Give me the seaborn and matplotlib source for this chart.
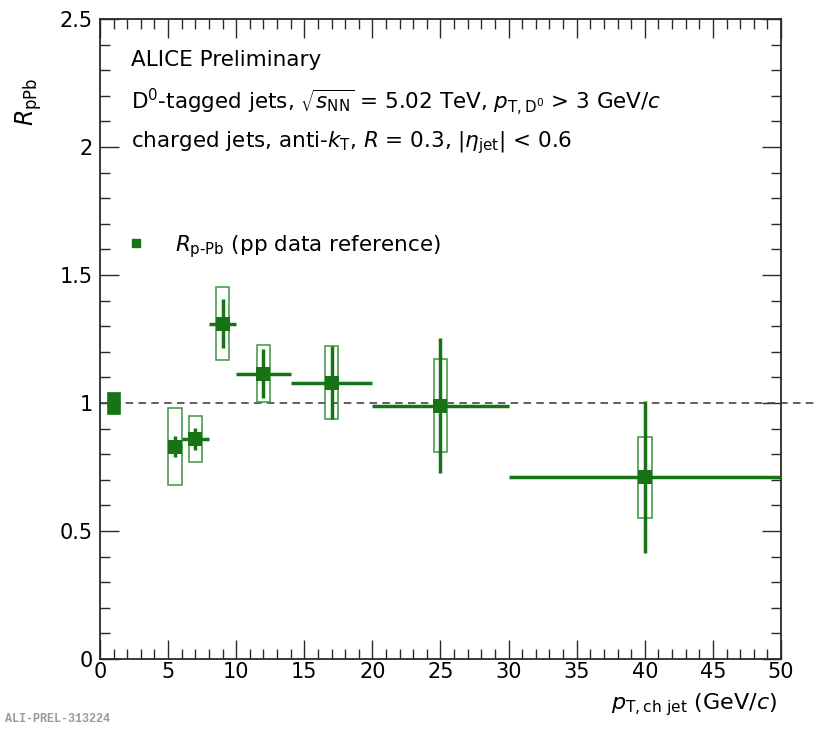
import numpy as np
import pandas as pd
import matplotlib
matplotlib.use("Agg")
import matplotlib.pyplot as plt
from matplotlib.patches import Rectangle
from matplotlib.lines import Line2D
from matplotlib.ticker import MultipleLocator
import seaborn as sns

# ---------------- data ----------------
pt_center = [5.5, 7.0, 9.0, 12.0, 17.0, 25.0, 40.0]
pt_low = [5.0, 6.0, 8.0, 10.0, 14.0, 20.0, 30.0]
pt_high = [6.0, 8.0, 10.0, 14.0, 20.0, 30.0, 50.0]
rppb = [0.83, 0.86, 1.31, 1.115, 1.08, 0.99, 0.71]
stat_err = [0.04, 0.042, 0.095, 0.095, 0.143, 0.265, 0.297]
sys_err = [0.152, 0.089, 0.142, 0.11, 0.142, 0.18, 0.158]
ref_x = [1.0]
ref_val = [1.0]
ref_unc = [0.042]

x_ticks_major = 5
y_ticks_major = 0.5

# ---------------- style ----------------
sns.set_style("ticks")
plt.rcParams["font.family"] = ["DejaVu Sans"]
plt.rcParams["mathtext.fontset"] = "dejavusans"
for k in ["text.color", "axes.labelcolor", "xtick.labelcolor", "ytick.labelcolor"]:
    plt.rcParams[k] = "black"

green = "#167416"
box_green = "#3d943d"
frame_col = "#2a2a2a"

df = pd.DataFrame({"pt": pt_center, "R": rppb, "stat": stat_err, "sys": sys_err,
                   "lo": pt_low, "hi": pt_high})

fig = plt.figure(figsize=(8.17, 7.29), dpi=100)
ax = fig.add_axes([100 / 817, 1 - 659 / 729, 681 / 817, 640 / 729])

# systematic boxes
box_w = 1.0
for _, row in df.iterrows():
    ax.add_patch(Rectangle((row.pt - box_w / 2, row.R - row.sys), box_w, 2 * row.sys,
                           facecolor="none", edgecolor=box_green, lw=1.1, zorder=3))

# reference normalisation box
for xv, yv, u in zip(ref_x, ref_val, ref_unc):
    ax.add_patch(Rectangle((xv - 0.5, yv - u), 1.0, 2 * u, facecolor=green,
                           edgecolor=green, lw=0.5, zorder=3))

# dashed line at unity extending beyond the frame
ax.plot([0, 1.053], [1, 1], transform=ax.get_yaxis_transform(), color="#444444",
        lw=1.2, dashes=(4.5, 3.2), clip_on=False, zorder=2)

# stat error bars
xerr = [np.array(df.pt) - np.array(df.lo), np.array(df.hi) - np.array(df.pt)]
ax.errorbar(df.pt, df.R, yerr=df.stat, xerr=xerr, fmt="none", ecolor=green,
            elinewidth=2.5, capsize=0, zorder=4)
sns.scatterplot(data=df, x="pt", y="R", marker="s", s=95, color=green,
                edgecolor=green, linewidth=0, ax=ax, zorder=5, legend=False)

# axes
ax.set_xlim(0, 50)
ax.set_ylim(0, 2.5)
ax.xaxis.set_major_locator(MultipleLocator(x_ticks_major))
ax.xaxis.set_minor_locator(MultipleLocator(1))
ax.yaxis.set_major_locator(MultipleLocator(y_ticks_major))
ax.yaxis.set_minor_locator(MultipleLocator(0.1))
ax.tick_params(which="both", direction="in", top=True, right=True, color=frame_col,
               width=1.0, labelsize=15)
ax.tick_params(which="major", length=13.5)
ax.tick_params(which="minor", length=7)
ax.tick_params(axis="x", which="major", pad=2)
ax.tick_params(axis="y", which="major", pad=5)
ax.yaxis.set_major_formatter(matplotlib.ticker.FuncFormatter(
    lambda v, p: "0" if v == 0 else ("%g" % v)))
for s in ax.spines.values():
    s.set_color(frame_col)
    s.set_linewidth(1.3)

ax.set_xlabel(r"$p_{\mathrm{T,ch\ jet}}$ (GeV/$c$)", fontsize=16, loc="right")
ax.xaxis.set_label_coords(0.995, -0.05)
ax.set_ylabel(r"$R_{\mathrm{pPb}}$", fontsize=17, loc="top")
ax.yaxis.set_label_coords(-0.082, 0.908)

# annotations
tkw = dict(transform=ax.transAxes, fontsize=15.5, ha="left", va="baseline")
ax.text(0.0455, 0.9266, "ALICE Preliminary", **tkw)
ax.text(0.0455, 0.858,
        r"D$^{0}$-tagged jets, $\sqrt{s_{\mathrm{NN}}}$ = 5.02 TeV, $p_{\mathrm{T,D^{0}}}$ > 3 GeV/$c$",
        **tkw)
ax.text(0.0455, 0.80,
        r"charged jets, anti-$k_{\mathrm{T}}$, $R$ = 0.3, |$\eta_{\mathrm{jet}}$| < 0.6", **tkw)

handle = Line2D([], [], marker="s", ls="none", color=green, markersize=6)
leg = ax.legend([handle], [r"$R_{\mathrm{p\text{-}Pb}}$ (pp data reference)"],
                loc="center left", bbox_to_anchor=(0.025, 0.645), frameon=False,
                fontsize=15.5, handlelength=1.0, handletextpad=1.3, borderaxespad=0)

fig.text(5 / 817, 1 - 722 / 729, "ALI-PREL-313224", fontsize=8.5, family="Liberation Mono",
         weight="bold", color="#9a9a9a", ha="left", va="baseline")

fig.savefig("out.png", dpi=100)
